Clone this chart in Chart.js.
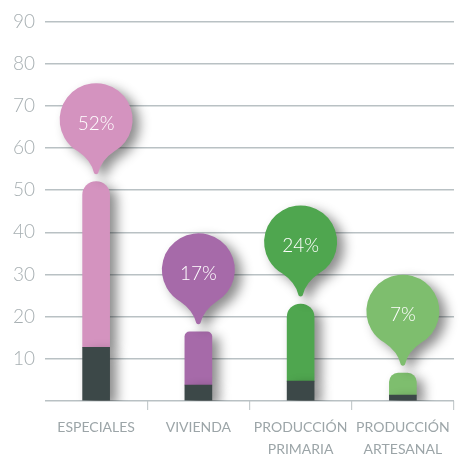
<!DOCTYPE html>
<html>
<head>
<meta charset="utf-8">
<script src="https://cdn.jsdelivr.net/npm/chart.js@4.4.0/dist/chart.umd.min.js"></script>
<style>
  html, body { margin: 0; padding: 0; background: #fff; }
  #wrap { width: 460px; height: 455px; position: relative; }
</style>
</head>
<body>
<div id="wrap"><canvas id="sectorChart"></canvas></div>
<script>
// data
const categories = ["ESPECIALES", "VIVIENDA", ["PRODUCCIÓN", "PRIMARIA"], ["PRODUCCIÓN", "ARTESANAL"]]
const totalValues = [52, 16.4, 23, 6.6]
const baseValues = [12.7, 3.8, 4.7, 1.4]
const percentLabels = ["52%", "17%", "24%", "7%"]
const barColors = ["#d493bf", "#a66aa9", "#4fa64f", "#7ebe6e"]
const baseColor = "#3c4848"
const topRadius = [14, 5, 14, 9]

const upperValues = totalValues.map((v, i) => v - baseValues[i])

// soft drop shadow behind the bars
const barShadow = {
  id: "barShadow",
  beforeDatasetDraw(chart) {
    const ctx = chart.ctx
    ctx.save()
    ctx.shadowColor = "rgba(0,0,0,0.45)"
    ctx.shadowBlur = 12
    ctx.shadowOffsetX = 7
    ctx.shadowOffsetY = 5
  },
  afterDatasetDraw(chart) {
    chart.ctx.restore()
  },
}

// speech bubbles above each bar
const bubbles = {
  id: "bubbles",
  afterDatasetsDraw(chart) {
    const ctx = chart.ctx
    const meta = chart.getDatasetMeta(1)
    const r = 36.5
    meta.data.forEach((bar, i) => {
      const cx = bar.x
      const tipY = bar.y - 7
      const cy = tipY - 55
      const a1 = Math.PI / 3
      const a2 = (Math.PI * 2) / 3
      ctx.save()
      ctx.shadowColor = "rgba(0,0,0,0.45)"
      ctx.shadowBlur = 12
      ctx.shadowOffsetX = 7
      ctx.shadowOffsetY = 5
      ctx.fillStyle = barColors[i]
      ctx.beginPath()
      ctx.arc(cx, cy, r, a1, a2, true)
      ctx.quadraticCurveTo(cx - 5, cy + r + 4, cx - 2, tipY - 1.5)
      ctx.quadraticCurveTo(cx, tipY + 0.5, cx + 2, tipY - 1.5)
      ctx.quadraticCurveTo(cx + 5, cy + r + 4, cx + r * Math.cos(a1), cy + r * Math.sin(a1))
      ctx.closePath()
      ctx.fill()
      ctx.restore()

      ctx.save()
      ctx.fillStyle = "#ffffff"
      ctx.font = "300 19px Lato, 'Open Sans', sans-serif"
      ctx.textAlign = "center"
      ctx.textBaseline = "middle"
      ctx.fillText(percentLabels[i], cx, cy + 4)
      ctx.restore()
    })
  },
}

const ctx = document.getElementById("sectorChart")
new Chart(ctx, {
  type: "bar",
  data: {
    labels: categories,
    datasets: [
      {
        data: baseValues,
        backgroundColor: baseColor,
        barThickness: 27,
        borderSkipped: false,
        borderRadius: 0,
      },
      {
        data: upperValues,
        backgroundColor: barColors,
        barThickness: 27,
        borderSkipped: false,
        borderRadius: (c) => ({ topLeft: topRadius[c.dataIndex], topRight: topRadius[c.dataIndex], bottomLeft: 0, bottomRight: 0 }),
      },
    ],
  },
  options: {
    responsive: true,
    maintainAspectRatio: false,
    animation: false,
    layout: { padding: { top: 19, right: 6, left: 0, bottom: 0 } },
    plugins: {
      legend: { display: false },
      tooltip: { enabled: false },
    },
    scales: {
      x: {
        stacked: true,
        border: { display: false },
        grid: {
          offset: true,
          drawOnChartArea: false,
          drawTicks: true,
          tickLength: 9,
          lineWidth: 1.2,
          color: (c) => (c.index === 0 ? "rgba(0,0,0,0)" : "#c6ccce"),
        },
        ticks: {
          color: "#9ca5a8",
          padding: 7,
          maxRotation: 0,
          autoSkip: false,
          font: { family: "Lato, 'Open Sans', sans-serif", size: 14, weight: "normal", lineHeight: 1.55 },
        },
        afterFit: (scale) => { scale.height = 54 },
      },
      y: {
        stacked: true,
        min: 0,
        max: 90,
        border: { display: false },
        grid: {
          color: "#b9c1c4",
          lineWidth: 1.5,
          drawTicks: false,
        },
        ticks: {
          stepSize: 10,
          padding: 10,
          color: "#a7afb2",
          font: { family: "Lato, 'Open Sans', sans-serif", size: 19, weight: "300" },
          callback: (v) => (v === 0 ? "" : v),
        },
        afterFit: (scale) => { scale.width = 45 },
      },
    },
  },
  plugins: [barShadow, bubbles],
})
</script>
</body>
</html>
